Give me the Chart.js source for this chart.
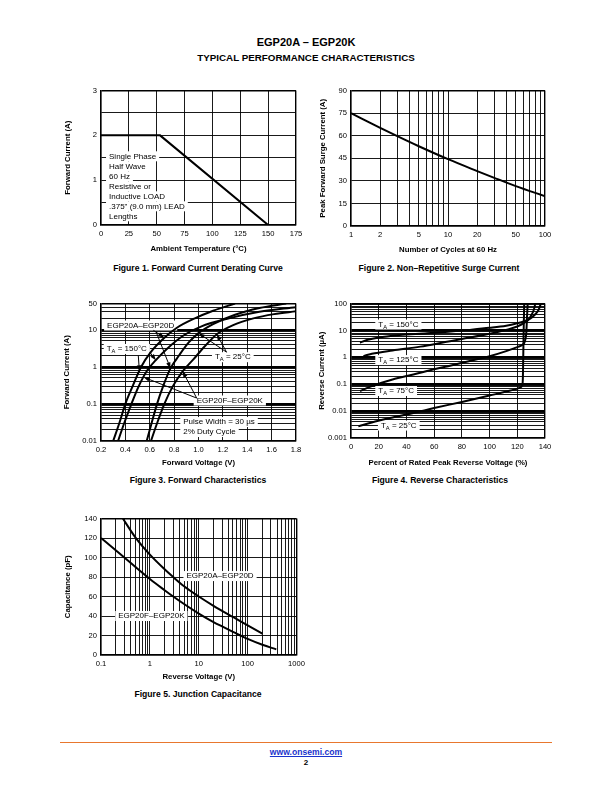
<!DOCTYPE html>
<html>
<head>
<meta charset="utf-8">
<script src="https://cdn.jsdelivr.net/npm/chart.js@4.4.0/dist/chart.umd.min.js"></script>
<style>
body { margin: 0; width: 612px; height: 792px; position: relative; background: #fff; font-family: "Liberation Sans", Arial, Helvetica, sans-serif; color: #000; }
.t { position: absolute; white-space: nowrap; font-weight: bold; transform: translate(-50%, -50%); }
canvas { position: absolute; }
#rule { position: absolute; left: 60px; top: 742px; width: 492px; height: 0; border-top: 1.2px solid #e8772e; }
a { color: #1a33cc; }
</style>
</head>
<body>
<div class="t" style="left:306px;top:42px;font-size:11px">EGP20A – EGP20K</div>
<div class="t" style="left:306px;top:57px;font-size:9.8px">TYPICAL PERFORMANCE CHARACTERISTICS</div>

<div class="t" style="left:198px;top:268px;font-size:8.6px">Figure 1. Forward Current Derating Curve</div>
<div class="t" style="left:439px;top:268px;font-size:8.6px">Figure 2. Non–Repetitive Surge Current</div>
<div class="t" style="left:198px;top:480px;font-size:8.6px">Figure 3. Forward Characteristics</div>
<div class="t" style="left:440px;top:480px;font-size:8.6px">Figure 4. Reverse Characteristics</div>
<div class="t" style="left:198px;top:694px;font-size:8.6px">Figure 5. Junction Capacitance</div>

<div id="rule"></div>
<div class="t" style="left:306px;top:752px;font-size:8.6px"><a href="#">www.onsemi.com</a></div>
<div class="t" style="left:306px;top:762px;font-size:8px">2</div>

<script>
// figure 1 - derating
var deratingTemp = [0, 53, 150];
var deratingAmps = [2, 2, 0];
var deratingXTicks = [0, 25, 50, 75, 100, 125, 150, 175];
var deratingYGrid = [0, 0.5, 1, 1.5, 2, 2.5, 3];
var deratingYLabels = [0, 1, 2, 3];

// figure 2 - surge
var surgeCycles = [1, 2, 3, 5, 10, 20, 30, 50, 100];
var surgeAmps = [75, 65.2, 59.7, 53, 44.4, 36.5, 32, 26.5, 19.8];
var surgeXLabels = [1, 2, 5, 10, 20, 50, 100];
var surgeYTicks = [0, 15, 30, 45, 60, 75, 90];

// figure 3 - forward characteristics
var fwdXTicks = [0.2, 0.4, 0.6, 0.8, 1.0, 1.2, 1.4, 1.6, 1.8];
var fwdYLabels = [0.01, 0.1, 1, 10, 50];
var fwdAD150V = [0.30, 0.35, 0.40, 0.46, 0.53, 0.61, 0.72, 0.82, 0.97, 1.12, 1.30];
var fwdAD150I = [0.01, 0.03, 0.1, 0.3, 1, 2.5, 6, 11, 20, 32, 50];
var fwdFK150V = [0.34, 0.39, 0.45, 0.51, 0.58, 0.65, 0.74, 0.88, 1.02, 1.25, 1.5, 1.8];
var fwdFK150I = [0.01, 0.03, 0.1, 0.3, 0.8, 1.5, 3, 7, 12, 20, 30, 40];
var fwdAD25V = [0.575, 0.615, 0.66, 0.71, 0.77, 0.84, 0.92, 1.0, 1.12, 1.3, 1.5, 1.72];
var fwdAD25I = [0.01, 0.03, 0.1, 0.3, 0.9, 2, 4.5, 8, 14, 25, 38, 50];
var fwdFK25V = [0.61, 0.66, 0.72, 0.79, 0.87, 0.96, 1.05, 1.15, 1.28, 1.45, 1.62, 1.8];
var fwdFK25I = [0.01, 0.03, 0.1, 0.3, 0.75, 1.6, 3.5, 7.5, 13, 20, 26, 31];

// figure 4 - reverse characteristics
var revXTicks = [0, 20, 40, 60, 80, 100, 120, 140];
var revYLabels = [0.001, 0.01, 0.1, 1, 10, 100];
var rev150Pct = [6.5, 12, 20, 35, 55, 70, 85, 100, 112, 120, 125, 129, 133, 135.5, 137];
var rev150uA = [3.5, 4.5, 5.5, 6.7, 7.8, 9, 10.5, 12.5, 15, 18.5, 22, 27, 40, 60, 100];
var rev125Pct = [8, 10, 15, 30, 50, 68, 80, 100, 112, 120, 125, 128, 130.5, 132, 133];
var rev125uA = [0.95, 1.15, 1.35, 1.8, 2.5, 3.7, 4.8, 7.5, 10.5, 14, 19, 25, 40, 60, 100];
var rev75Pct = [6.5, 15, 30, 45, 60, 70, 85, 100, 112, 120, 124, 125.5, 126.5, 127, 127.5];
var rev75uA = [0.055, 0.085, 0.15, 0.23, 0.36, 0.47, 0.72, 1.1, 1.7, 2.4, 3, 4, 8, 30, 100];
var rev25Pct = [5.3, 15, 30, 45, 60, 80, 100, 115, 122, 123.5, 124, 124.3, 124.6, 125];
var rev25uA = [0.0027, 0.0038, 0.0058, 0.0085, 0.013, 0.022, 0.038, 0.058, 0.075, 0.09, 0.15, 1, 10, 100];

// figure 5 - capacitance
var capXLabels = [0.1, 1, 10, 100, 1000];
var capYTicks = [0, 20, 40, 60, 80, 100, 120, 140];
var capADVolts = [0.28, 0.5, 1, 2, 3, 5, 10, 20, 50, 100, 200];
var capADpF = [140, 121, 103, 88, 80, 70.5, 60, 50.5, 39, 30.5, 22];
var capFKVolts = [0.1, 0.2, 0.3, 0.5, 1, 2, 3, 5, 10, 20, 30, 50, 100, 200, 385];
var capFKpF = [120, 107.5, 100, 90.5, 78, 66.5, 60, 52.3, 42.5, 33.8, 29.3, 23.8, 16.5, 10.5, 5.8];

var FAM = '"Liberation Sans", Arial, Helvetica, sans-serif';
Chart.defaults.font.family = FAM;
Chart.defaults.color = '#000';

function pts(xs, ys) {
    return xs.map(function (x, i) { return { x: x, y: ys[i] }; });
}

function logGrid(min, max) {
    var out = [];
    for (var k = -4; k <= 4; k++) {
        for (var d = 1; d <= 9; d++) {
            var v = Number((d * Math.pow(10, k)).toPrecision(6));
            if (v >= min * 0.9999 && v <= max * 1.0001) out.push(v);
        }
    }
    return out;
}

function near(a, b) { return Math.abs(a - b) <= Math.abs(b) * 1e-6 + 1e-12; }
function has(list, v) { return list.some(function (u) { return near(u, v); }); }
function isDecade(v) { var l = Math.log10(v); return Math.abs(l - Math.round(l)) < 1e-6; }

function axis(o) {
    return {
        type: o.type || 'linear',
        position: o.pos,
        min: o.min,
        max: o.max,
        afterBuildTicks: function (s) {
            s.ticks = o.grid.map(function (v) { return { value: v }; });
        },
        afterFit: function (s) {
            if (o.pos === 'left') s.width = o.fit; else s.height = o.fit;
        },
        ticks: {
            autoSkip: false, maxRotation: 0, minRotation: 0, padding: 4, color: '#000',
            font: { size: 7.6, family: FAM },
            callback: function (v) {
                if (!has(o.labels, v)) return '';
                return o.fmt ? o.fmt(v) : String(v);
            }
        },
        grid: {
            color: '#000', drawTicks: false,
            lineWidth: function (c) {
                if (!c.tick) return 1;
                var v = c.tick.value;
                if (near(v, o.min) || near(v, o.max)) return 1.4;
                if (o.thick && isDecade(v)) return o.thick;
                return 0.9;
            }
        },
        border: { display: true, color: '#000', width: 1.4 },
        title: {
            display: true, text: o.title, color: '#000',
            font: { size: 7.8, weight: 'bold', family: FAM },
            padding: { top: 4, bottom: 4 }
        }
    };
}

function rich(ctx, text, x, y, size, draw) {
    var parts = text.split(/_(.)/);
    var cx = x;
    for (var i = 0; i < parts.length; i++) {
        var sub = i % 2 === 1;
        ctx.font = (sub ? size * 0.72 : size) + 'px ' + FAM;
        if (draw) ctx.fillText(parts[i], cx, sub ? y + size * 0.3 : y);
        cx += ctx.measureText(parts[i]).width;
    }
    return cx - x;
}

function notes(list, arrows) {
    return {
        id: 'notes',
        beforeDatasetsDraw: function (chart) {
            var ctx = chart.ctx, xs = chart.scales.x, ys = chart.scales.y;
            ctx.save();
            ctx.textBaseline = 'middle';
            ctx.textAlign = 'left';
            list.forEach(function (n) {
                var x0 = xs.getPixelForValue(n.x), y0 = ys.getPixelForValue(n.y);
                n.lines.forEach(function (line, i) {
                    var y = y0 + i * 10;
                    var w = rich(ctx, line, x0, y, 8, false);
                    ctx.fillStyle = '#fff';
                    ctx.fillRect(x0 - 3, y - 5, w + 6, 10);
                    ctx.fillStyle = '#000';
                    rich(ctx, line, x0, y, 8, true);
                });
            });
            ctx.restore();
        },
        afterDatasetsDraw: function (chart) {
            var ctx = chart.ctx, xs = chart.scales.x, ys = chart.scales.y;
            ctx.save();
            ctx.strokeStyle = '#000';
            ctx.fillStyle = '#000';
            ctx.lineWidth = 1;
            (arrows || []).forEach(function (a) {
                var x1 = xs.getPixelForValue(a[0]), y1 = ys.getPixelForValue(a[1]);
                var x2 = xs.getPixelForValue(a[2]), y2 = ys.getPixelForValue(a[3]);
                var ang = Math.atan2(y2 - y1, x2 - x1);
                ctx.beginPath();
                ctx.moveTo(x1, y1);
                ctx.lineTo(x2 - 4 * Math.cos(ang), y2 - 4 * Math.sin(ang));
                ctx.stroke();
                ctx.beginPath();
                ctx.moveTo(x2, y2);
                ctx.lineTo(x2 - 6 * Math.cos(ang) + 2.2 * Math.sin(ang), y2 - 6 * Math.sin(ang) - 2.2 * Math.cos(ang));
                ctx.lineTo(x2 - 6 * Math.cos(ang) - 2.2 * Math.sin(ang), y2 - 6 * Math.sin(ang) + 2.2 * Math.cos(ang));
                ctx.closePath();
                ctx.fill();
            });
            ctx.restore();
        }
    };
}

function line(data, smooth) {
    return {
        data: data, showLine: true, borderColor: '#000', borderWidth: 2,
        pointRadius: 0, fill: false, tension: 0,
        cubicInterpolationMode: smooth ? 'monotone' : 'default'
    };
}

// plot = [left, top, right, bottom] of the plotting area on the page
function makeChart(plot, yTitleX, xTitleY, xAxis, yAxis, datasets, plugin) {
    var off = 7.8 * 1.2 / 2 + 4;
    var L = Math.round(yTitleX - off), T = plot[1] - 8;
    var R = plot[2] + 12, B = Math.round(xTitleY + off);
    var cv = document.createElement('canvas');
    cv.width = R - L; cv.height = B - T;
    cv.style.left = L + 'px'; cv.style.top = T + 'px';
    cv.style.width = (R - L) + 'px'; cv.style.height = (B - T) + 'px';
    document.body.appendChild(cv);
    xAxis.pos = 'bottom'; xAxis.fit = B - plot[3];
    yAxis.pos = 'left'; yAxis.fit = plot[0] - L;
    return new Chart(cv, {
        type: 'scatter',
        data: { datasets: datasets },
        options: {
            responsive: false, animation: false,
            layout: { padding: { top: 8, right: 12, left: 0, bottom: 0 } },
            plugins: { legend: { display: false }, tooltip: { enabled: false } },
            scales: { x: axis(xAxis), y: axis(yAxis) }
        },
        plugins: plugin ? [plugin] : []
    });
}

// Figure 1
makeChart([101, 90, 296, 225], 68, 249,
    { min: 0, max: 175, grid: deratingXTicks, labels: deratingXTicks, title: 'Ambient Temperature (°C)' },
    { min: 0, max: 3, grid: deratingYGrid, labels: deratingYLabels, title: 'Forward Current (A)' },
    [line(pts(deratingTemp, deratingAmps), false)],
    notes([{ x: 7.2, y: 1.533, lines: ['Single Phase', 'Half Wave', '60 Hz', 'Resistive or',
        'Inductive LOAD', '.375" (9.0 mm) LEAD', 'Lengths'] }], []));

// Figure 2
makeChart([351, 90, 545, 226], 323, 250,
    { type: 'logarithmic', min: 1, max: 100, grid: logGrid(1, 100), labels: surgeXLabels, title: 'Number of Cycles at 60 Hz' },
    { min: 0, max: 90, grid: surgeYTicks, labels: surgeYTicks, title: 'Peak Forward Surge Current (A)' },
    [line(pts(surgeCycles, surgeAmps), true)], null);

// Figure 3
makeChart([101, 303, 296, 441], 67, 463,
    { min: 0.2, max: 1.8, grid: fwdXTicks, labels: fwdXTicks, fmt: function (v) { return v.toFixed(1); }, title: 'Forward Voltage (V)' },
    { type: 'logarithmic', min: 0.01, max: 50, grid: logGrid(0.01, 50), labels: fwdYLabels, thick: 2, title: 'Forward Current (A)' },
    [line(pts(fwdAD150V, fwdAD150I), true), line(pts(fwdFK150V, fwdFK150I), true),
     line(pts(fwdAD25V, fwdAD25I), true), line(pts(fwdFK25V, fwdFK25I), true)],
    notes([
        { x: 0.25, y: 12.8, lines: ['EGP20A–EGP20D'] },
        { x: 0.247, y: 3.0, lines: ['T_A = 150°C'] },
        { x: 1.135, y: 1.8, lines: ['T_A = 25°C'] },
        { x: 0.985, y: 0.123, lines: ['EGP20F–EGP20K'] },
        { x: 0.875, y: 0.0324, lines: ['Pulse Width = 30 µs', '2% Duty Cycle'] }
    ], [
        [0.63, 9.5, 0.72, 6], [0.65, 9.0, 0.77, 0.9],
        [0.506, 2.0, 0.515, 0.75], [0.60, 2.46, 0.65, 1.5],
        [1.23, 2.46, 1.0, 8], [1.23, 2.46, 1.15, 7.5],
        [0.985, 0.143, 0.55, 0.52], [0.985, 0.143, 0.87, 0.75]
    ]));

// Figure 4
makeChart([351, 303, 545, 438], 322, 463,
    { min: 0, max: 140, grid: revXTicks, labels: revXTicks, title: 'Percent of Rated Peak Reverse Voltage (%)' },
    { type: 'logarithmic', min: 0.001, max: 100, grid: logGrid(0.001, 100), labels: revYLabels, thick: 2.6, title: 'Reverse Current (µA)' },
    [line(pts(rev150Pct, rev150uA), true), line(pts(rev125Pct, rev125uA), true),
     line(pts(rev75Pct, rev75uA), true), line(pts(rev25Pct, rev25uA), true)],
    notes([
        { x: 19.7, y: 16.6, lines: ['T_A = 150°C'] },
        { x: 19.7, y: 0.79, lines: ['T_A = 125°C'] },
        { x: 19.7, y: 0.056, lines: ['T_A = 75°C'] },
        { x: 21.6, y: 0.0029, lines: ['T_A = 25°C'] }
    ], []));

// Figure 5
makeChart([101, 518, 297, 655], 68, 677,
    { type: 'logarithmic', min: 0.1, max: 1000, grid: logGrid(0.1, 1000), labels: capXLabels, title: 'Reverse Voltage (V)' },
    { min: 0, max: 140, grid: capYTicks, labels: capYTicks, title: 'Capacitance (pF)' },
    [line(pts(capADVolts, capADpF), true), line(pts(capFKVolts, capFKpF), true)],
    notes([
        { x: 5.6, y: 81, lines: ['EGP20A–EGP20D'] },
        { x: 0.225, y: 40, lines: ['EGP20F–EGP20K'] }
    ], []));
</script>
</body>
</html>
